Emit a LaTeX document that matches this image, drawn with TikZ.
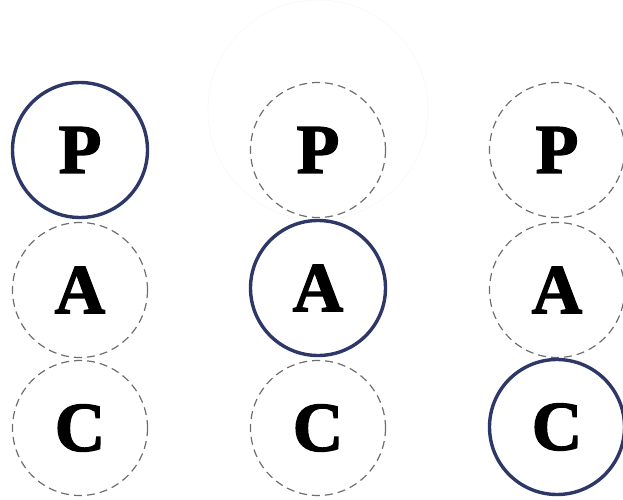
\documentclass[tikz,border=0pt]{standalone}
\usepackage{xcolor}
\usepackage{fontspec}
\newfontfamily\heavyserif[BoldFont={Liberation Serif Bold}, BoldFeatures={FakeBold=2}]{Liberation Serif}
\usepackage{tikz}
\usetikzlibrary{positioning}
\definecolor{navy}{HTML}{2E3868}
\definecolor{dashgray}{HTML}{6E6E6E}

\begin{document}
\begin{tikzpicture}[
  x=1pt, y=-1pt,
  letter/.style={circle, minimum size=135pt, inner sep=0pt,
                 font=\heavyserif\fontsize{70}{72}\selectfont\bfseries},
  off/.style={letter, draw=dashgray, line width=1.2pt,
              dash pattern=on 8pt off 5pt},
  on/.style={letter, draw=navy, line width=3.4pt},
]
\useasboundingbox (0,0) rectangle (623,500);
% faint halo behind the top middle circle
\draw[gray!6, line width=0.6pt] (318,110) circle (110);
% column 1
\node[on]  (p1) at (80,150) {P};
\node[off] (a1) at (80,290) {A};
\node[off] (c1) at (80,428) {C};
% column 2
\node[off] (p2) at (318,150) {P};
\node[on]  (a2) at (318,288) {A};
\node[off] (c2) at (318,428) {C};
% column 3
\node[off] (p3) at (557,150) {P};
\node[off] (a3) at (557,290) {A};
\node[on]  (c3) at (557,427) {C};
\end{tikzpicture}
\end{document}
